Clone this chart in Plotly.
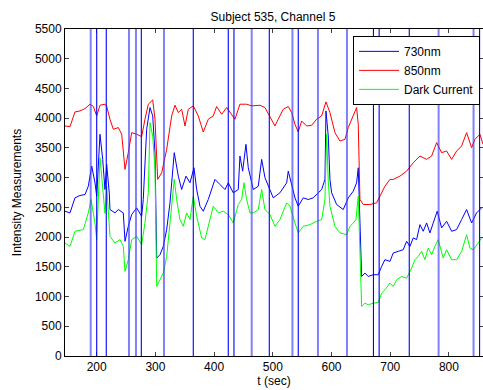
import plotly.graph_objects as go

# ---- data ----
t_850 = [146.0, 154.5, 163.0, 171.5, 180.1, 188.6, 194.2, 200.0, 205.6, 214.1, 217.0, 222.6, 228.3,
         236.8, 242.6, 248.2, 253.8, 259.6, 268.1, 276.6, 282.2, 287.9, 295.4, 299.3, 303.9, 310.7,
         319.2, 327.7, 333.3, 339.0, 344.7, 350.4, 356.0, 364.5, 373.0, 381.5, 390.0, 398.5, 404.3,
         412.9, 421.4, 429.9, 435.5, 444.0, 455.4, 464.0, 478.1, 486.6, 495.1, 503.6, 509.2, 517.8,
         526.3, 532.1, 537.7, 543.3, 549.1, 557.6, 566.1, 574.6, 583.2, 590.5, 597.3, 605.8, 614.3,
         622.8, 628.5, 637.0, 642.7, 645.5, 648.4, 654.0, 665.4, 676.8, 682.4, 691.0, 699.5, 705.1,
         716.5, 727.9, 739.2, 750.6, 762.0, 770.5, 779.0, 787.5, 796.0, 804.6, 813.1, 821.6, 830.1,
         838.6, 844.2, 852.8, 858.0]
v_850 = [3869, 3858, 4105, 4122, 4162, 4235, 4200, 4038, 4218, 4235, 4200, 3982, 3813,
         3842, 3729, 3138, 3420, 3757, 3729, 3690, 3982, 4235, 4308, 3982, 2970, 3082,
         3476, 4038, 4218, 4095, 4150, 3869, 4150, 4207, 4038, 3768, 3982, 4038, 4196,
         4066, 4179, 4066, 3982, 4235, 4235, 4207, 4218, 4179, 4010, 3869, 3982, 4150,
         4196, 4095, 3897, 3768, 3953, 3869, 3880, 3982, 4038, 4274, 4095, 3757, 3616,
         3644, 3842, 4038, 4179, 3900, 2632, 2548, 2548, 2576, 2688, 2856, 2970, 2970,
         3025, 3110, 3251, 3363, 3307, 3363, 3589, 3420, 3448, 3307, 3448, 3532, 3757,
         3504, 3644, 3729, 3560]

t_730 = [146.0, 154.5, 163.0, 171.5, 180.1, 185.7, 191.5, 197.1, 200.0, 205.6, 210.2, 214.1, 217.0,
         221.4, 222.6, 231.1, 236.8, 245.3, 248.2, 253.8, 259.6, 268.1, 276.6, 279.3, 285.1, 290.8,
         295.4, 299.3, 302.2, 307.8, 313.4, 319.2, 324.8, 332.1, 339.0, 344.7, 352.1, 358.9, 365.7,
         370.3, 375.9, 381.5, 390.0, 398.5, 401.4, 409.9, 418.5, 424.1, 432.6, 441.1, 444.0, 448.6,
         454.2, 458.2, 464.0, 466.7, 475.2, 481.0, 486.6, 495.1, 500.7, 512.1, 523.6, 526.3, 532.1,
         537.7, 543.3, 551.8, 560.3, 568.9, 577.4, 583.2, 588.8, 590.5, 594.4, 597.3, 600.2, 608.7,
         619.9, 628.5, 637.0, 642.7, 645.5, 647.2, 651.3, 656.9, 662.5, 671.0, 679.6, 685.3, 691.0,
         699.5, 705.1, 713.6, 722.1, 727.9, 733.5, 739.2, 744.9, 750.6, 756.2, 762.0, 767.6, 773.2,
         780.0, 787.5, 796.0, 804.6, 813.1, 821.6, 830.1, 838.6, 847.1, 855.6]
v_730 = [2435, 2407, 2660, 2700, 2716, 2856, 3194, 2913, 2688, 3729, 3307, 2800, 3222,
         2745, 2463, 2407, 2463, 2407, 1929, 2182, 2379, 2491, 2350, 2632, 3813, 4179,
         4038, 3420, 1648, 1704, 1844, 2126, 2576, 3420, 3025, 2800, 3025, 2913, 3166,
         2800, 2519, 2435, 2632, 2913, 2970, 2885, 2800, 2913, 2745, 2800, 3363, 3110,
         3560, 3166, 2913, 2800, 2856, 3307, 3000, 2800, 2660, 2745, 2913, 3110, 2856,
         2660, 2519, 2660, 2632, 2660, 2745, 2800, 2970, 4122, 3701, 2970, 2745, 2548,
         2463, 2660, 2772, 2913, 3166, 2700, 1338, 1395, 1338, 1367, 1367, 1507, 1620,
         1591, 1733, 1760, 1788, 1929, 1844, 1986, 1957, 2210, 2098, 2238, 2070, 2238,
         2435, 2154, 2266, 2098, 2126, 2295, 2463, 2238, 2407, 2491]

t_dark = [146.0, 154.5, 163.0, 177.2, 185.7, 190.3, 197.1, 200.0, 205.6, 210.2, 214.1, 217.0, 222.6,
          231.1, 239.7, 245.3, 248.2, 253.8, 259.6, 268.1, 276.6, 282.2, 287.9, 290.8, 295.4, 299.3,
          302.2, 307.8, 313.4, 319.2, 324.8, 330.4, 332.1, 336.2, 341.8, 347.5, 353.2, 358.9, 364.5,
          370.3, 378.8, 384.4, 390.0, 398.5, 407.1, 415.6, 424.1, 432.6, 441.1, 446.9, 450.8, 455.4,
          461.1, 466.7, 475.2, 481.0, 486.6, 495.1, 503.6, 512.1, 523.6, 529.2, 537.7, 543.3, 551.8,
          563.2, 574.6, 583.2, 588.8, 591.7, 594.4, 597.3, 605.8, 614.3, 625.7, 631.4, 637.0, 641.6,
          645.5, 651.3, 656.9, 662.5, 671.0, 679.6, 685.3, 691.0, 699.5, 705.1, 710.9, 719.4, 727.9,
          736.4, 741.9, 747.7, 753.5, 759.1, 764.7, 770.5, 776.1, 781.7, 790.2, 796.0, 804.6, 813.1,
          821.6, 830.1, 835.7, 841.4, 849.9, 855.6]
v_dark = [1901, 1844, 2098, 2126, 2407, 2632, 2238, 1957, 3335, 2800, 2400, 2856, 2013,
          1901, 1957, 1844, 1422, 1620, 1957, 2013, 1873, 2238, 2745, 3926, 3700, 3138,
          1170, 1282, 1395, 1676, 2238, 2800, 2970, 2632, 2295, 2182, 2407, 2295, 2688,
          2350, 1986, 1957, 2182, 2519, 2407, 2435, 2379, 2238, 2548, 2632, 2913, 2632,
          2407, 2407, 2463, 2800, 2463, 2379, 2182, 2295, 2576, 2520, 2238, 2070, 2182,
          2210, 2266, 2295, 2632, 3729, 2941, 2519, 2182, 2070, 2041, 2182, 2238, 2295,
          2688, 832, 889, 860, 889, 900, 1058, 1114, 1226, 1170, 1282, 1338, 1310,
          1479, 1620, 1676, 1760, 1620, 1816, 1704, 1844, 1957, 1648, 1788, 1620, 1620,
          1760, 2041, 1816, 1788, 1900, 1986]

# event markers (vertical lines); "light" ones rendered softer in the reference
events_light = [189.8, 255.0, 266.9, 314.6, 464.0, 533.4, 576.9, 626.3, 782.4, 841.9]
events_dark = [200.0, 216.3, 276.0, 364.5, 424.1, 433.8, 494.0, 543.3, 671.4, 681.1, 732.4, 852.2]

x_ticks = [200, 300, 400, 500, 600, 700, 800]
y_ticks = list(range(0, 5501, 500))

FONT = "Liberation Sans, Arial, Helvetica, sans-serif"

fig = go.Figure()
fig.add_trace(go.Scatter(x=t_730, y=v_730, mode="lines", name="730nm",
                         line=dict(color="#0000ff", width=1)))
fig.add_trace(go.Scatter(x=t_850, y=v_850, mode="lines", name="850nm",
                         line=dict(color="#ff0000", width=1)))
fig.add_trace(go.Scatter(x=t_dark, y=v_dark, mode="lines", name="Dark Current",
                         line=dict(color="#00ff00", width=1)))

for e in events_light:
    fig.add_shape(type="line", xref="x", yref="paper", x0=e, x1=e, y0=0, y1=1,
                  line=dict(color="rgba(60,60,255,0.65)", width=2), layer="above")
for e in events_dark:
    fig.add_shape(type="line", xref="x", yref="paper", x0=e, x1=e, y0=0, y1=1,
                  line=dict(color="#0000ff", width=1.1), layer="above")

fig.update_layout(
    template="none",
    width=483, height=390,
    margin=dict(l=65, r=0, t=29, b=34, autoexpand=False),
    paper_bgcolor="white", plot_bgcolor="white",
    font=dict(family=FONT, size=12, color="black"),
    title=dict(text="Subject 535, Channel 5", x=0.5651, xanchor="center",
               y=0.958, yanchor="middle", font=dict(size=12)),
    showlegend=True,
    legend=dict(x=0.689, y=0.979, xanchor="left", yanchor="top",
                bgcolor="white", bordercolor="black", borderwidth=1,
                font=dict(size=12), tracegroupgap=0, itemwidth=40),
)
fig.update_xaxes(range=[146, 858], tickvals=x_ticks, ticks="inside", ticklen=4,
                 showline=True, linecolor="black", linewidth=1, mirror="ticks",
                 showgrid=False, zeroline=False, automargin=False,
                 title=dict(text="t (sec)", standoff=2, font=dict(size=12)))
fig.update_yaxes(range=[0, 5500], tickvals=y_ticks, ticks="inside", ticklen=4,
                 showline=True, linecolor="black", linewidth=1, mirror="ticks",
                 showgrid=False, zeroline=False, automargin=False,
                 title=dict(text="Intensity Measurements", standoff=10, font=dict(size=12)))

fig.write_html("out.html", config={"displayModeBar": False},
               post_script="document.body.style.margin='0';document.body.style.overflow='hidden';")
